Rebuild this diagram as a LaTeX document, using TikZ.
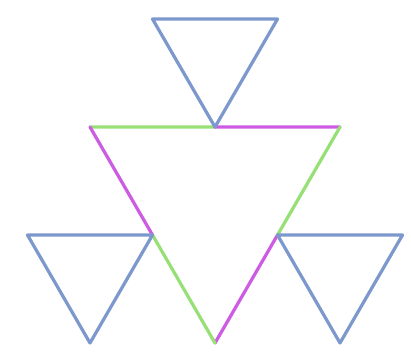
\documentclass[tikz,border=0pt]{standalone}
\usepackage{tikz}
\usetikzlibrary{calc}
\definecolor{triblue}{RGB}{124,152,204}
\definecolor{trigreen}{RGB}{150,224,118}
\definecolor{trimag}{RGB}{204,92,226}

\begin{document}
\begin{tikzpicture}[x=0.025cm, y=-0.025cm, line cap=round, line join=round,
				side/.style={line width=2.3pt}]
				
				% --- 1. 画布 ---
				\useasboundingbox (0,0) rectangle (411,358);
				
				% --- 2. 坐标点定义 ---
				\coordinate (A) at (90,127);    % 大三角形左上
				\coordinate (B) at (340,127);   % 大三角形右上
				\coordinate (C) at (215,343);   % 大三角形下顶点
				\coordinate (AB) at ($(A)!0.5!(B)$);
				\coordinate (AC) at ($(A)!0.5!(C)$);
				\coordinate (BC) at ($(B)!0.5!(C)$);
				
				% --- 3. 大三角形 (两色分段) ---
				\draw[side, trigreen] (A) -- (AB);
				\draw[side, trimag] (AB) -- (B);
				\draw[side, trigreen] (B) -- (BC);
				\draw[side, trimag] (BC) -- (C);
				\draw[side, trimag] (A) -- (AC);
				\draw[side, trigreen] (AC) -- (C);
				
				% --- 4. 三个小三角形 ---
				\draw[side, triblue] (AB) -- ++(-62.5,-108) coordinate (T1) -- ++(125,0) coordinate (T2) -- cycle;
				\draw[side, triblue] (AC) -- ++(-125,0) coordinate (L1) -- ($(L1)!0.5!(AC)+(0,108)$) coordinate (L2) -- cycle;
				\draw[side, triblue] (BC) -- ++(125,0) coordinate (R1) -- ($(R1)!0.5!(BC)+(0,108)$) coordinate (R2) -- cycle;
				
			\end{tikzpicture}
\end{document}
